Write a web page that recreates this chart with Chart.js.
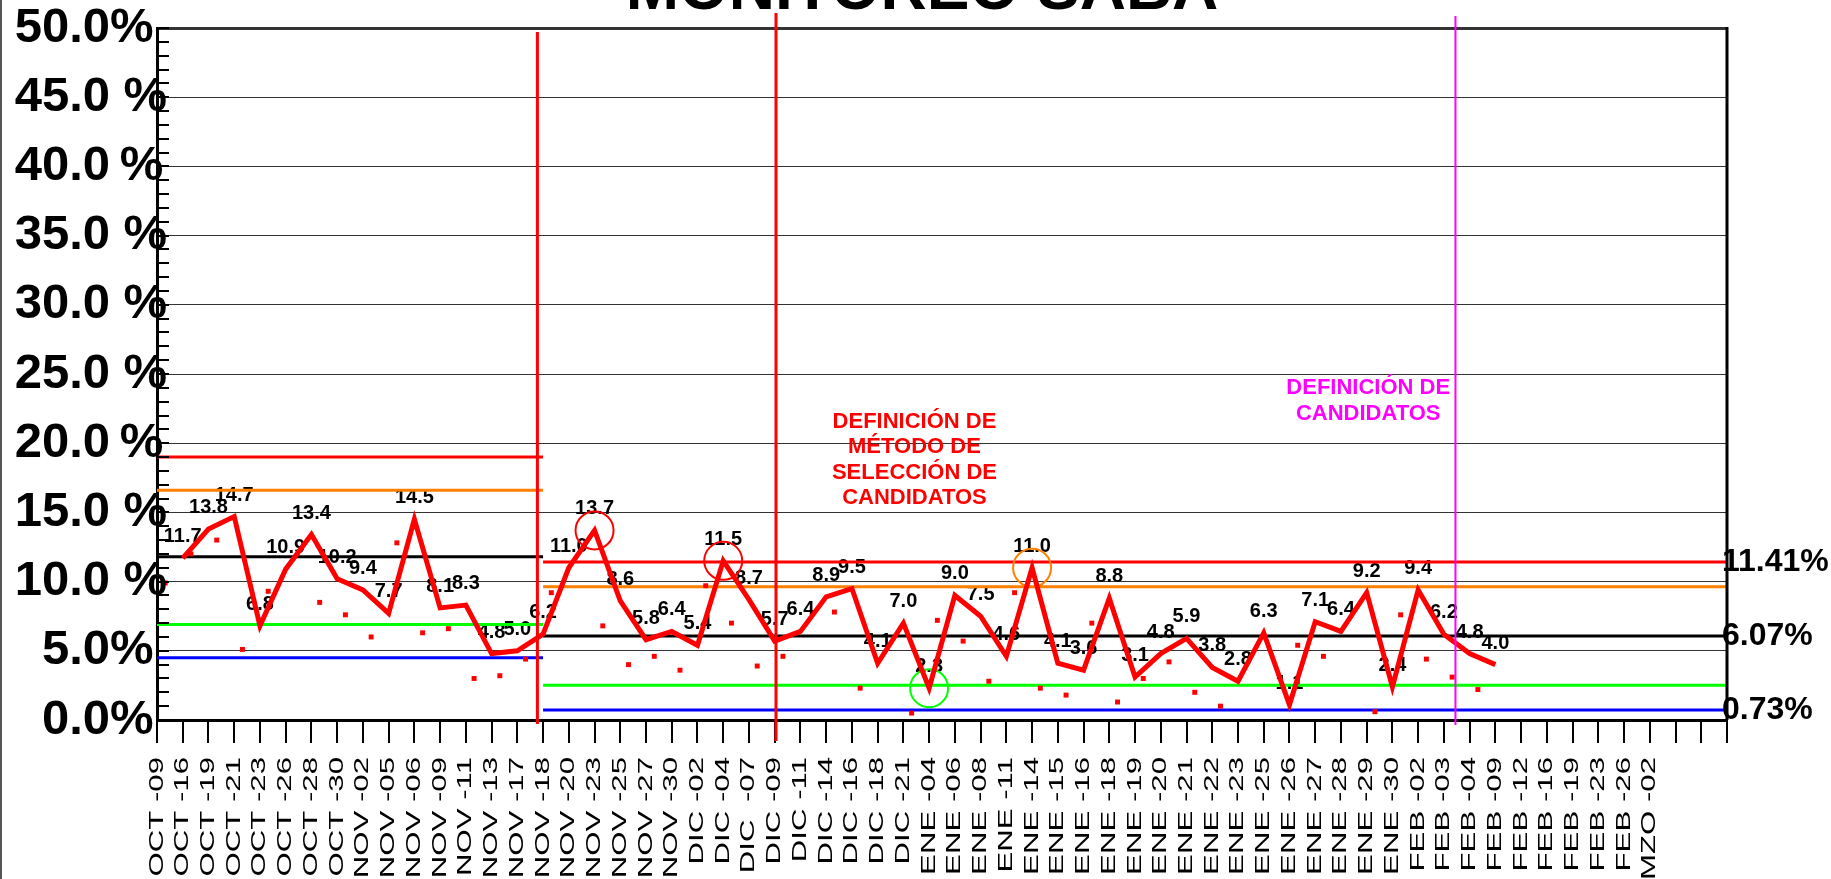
<!DOCTYPE html>
<html>
<head>
<meta charset="utf-8">
<script src="https://cdn.jsdelivr.net/npm/chart.js@4.4.1/dist/chart.umd.min.js"></script>
<style>
html,body{margin:0;padding:0;background:#ffffff;overflow:hidden;}
canvas{display:block;}
</style>
</head>
<body>
<canvas id="c" width="1831" height="879" style="width:1831px;height:879px"></canvas>
<script>
// ---------------- DATA ----------------
const chartTitle = 'MONITOREO SABA';

const categories = [
  'OCT -09','OCT -16','OCT -19','OCT -21','OCT -23','OCT -26','OCT -28','OCT -30',
  'NOV -02','NOV -05','NOV -06','NOV -09','NOV -11','NOV -13','NOV -17','NOV -18','NOV -20','NOV -23','NOV -25','NOV -27','NOV -30',
  'DIC -02','DIC -04','DIC  -07','DIC -09','DIC -11','DIC -14','DIC -16','DIC -18','DIC -21',
  'ENE -04','ENE -06','ENE -08','ENE -11','ENE -14','ENE -15','ENE -16','ENE -18','ENE -19','ENE -20',
  'ENE -21','ENE -22','ENE -23','ENE -25','ENE -26','ENE -27','ENE -28','ENE -29','ENE -30',
  'FEB -02','FEB -03','FEB -04','FEB -09','FEB -12','FEB -16','FEB -19','FEB -23','FEB -26',
  'MZO -02','','',''
];

// main series (percent), one per category
const mainValues = [
  null, 11.7, 13.8, 14.7, 6.8, 10.9, 13.4, 10.2, 9.4, 7.7, 14.5, 8.1, 8.3, 4.8, 5.0, 6.2,
  11.0, 13.7, 8.6, 5.8, 6.4, 5.4, 11.5, 8.7, 5.7, 6.4, 8.9, 9.5, 4.1, 7.0, 2.3,
  9.0, 7.5, 4.6, 11.0, 4.1, 3.6, 8.8, 3.1, 4.8, 5.9, 3.8, 2.8, 6.3, 1.1, 7.1, 6.4,
  9.2, 2.4, 9.4, 6.2, 4.8, 4.0
];

// secondary series (small red squares)
const dotValues = [
  9.9, 12.0, 13.0, 5.1, 9.3, null, 8.5, 7.6, 6.0, 12.8, 6.3, 6.6, 3.0, 3.2, 4.4, 9.2,
  null, 6.8, 4.0, 4.6, 3.6, 9.7, 7.0, 3.9, 4.6, null, 7.8, 2.3, null, 0.5, 7.2,
  5.7, 2.8, 9.2, 2.3, 1.8, 7.0, 1.3, 3.0, 4.2, 2.0, 1.0, null, -0.6, 5.4, 4.6, null,
  0.6, 7.6, 4.4, 3.1, 2.2, null
];

const yTickValues = [0, 5, 10, 15, 20, 25, 30, 35, 40, 45, 50];
const yTickLabels = ['0.0%', '5.0%', '10.0 %', '15.0 %', '20.0\u2009%', '25.0 %', '30.0 %', '35.0 %', '40.0\u2009%', '45.0 %', '50.0%'];

// control limits: UCL, +2s, CL, -2s, LCL
const phase1Limits = [19.0, 16.6, 11.8, 6.9, 4.5];
const phase2Limits = [11.41, 9.63, 6.07, 2.51, 0.73];
const phaseSpans = [[0, 15], [15, 61]];
const labeledLimits = [11.41, 6.07, 0.73];

const highlightIdx = [17, 22, 30, 34];
const phaseBreaks = [14.78, 24.05, 50.45];

const noteRed = ['DEFINICIÓN DE', 'MÉTODO DE', 'SELECCIÓN DE', 'CANDIDATOS'];
const noteMagenta = ['DEFINICIÓN DE', 'CANDIDATOS'];

// ---------------- STYLES ----------------
const FONT = '"Liberation Sans", Arial, Helvetica, sans-serif';
const limitColors = ['#FF0000', '#FF8000', '#000000', '#00FF00', '#0000FF'];
const highlightColors = ['#FF0000', '#FF0000', '#00FF00', '#FF8000'];
const breakStyles = [
  {color: '#FF0000', width: 3, top: 32, bottom: 724},
  {color: '#FF0000', width: 3, top: 13, bottom: 741},
  {color: '#FF00FF', width: 2, top: 16, bottom: 725}
];
const dotShift = 0.32;

// ---------------- DATASETS ----------------
const datasets = [];
datasets.push({
  label: 'main',
  data: mainValues.map((v, i) => v == null ? null : {x: i, y: v}).filter(Boolean),
  borderColor: '#FF0000', borderWidth: 5, pointRadius: 0, tension: 0,
  borderJoinStyle: 'miter', fill: false, order: 0
});
datasets.push({
  label: 'highlight',
  data: highlightIdx.map(i => ({x: i, y: mainValues[i]})),
  showLine: false, pointRadius: 19, pointStyle: 'circle', pointBorderWidth: 2,
  pointBorderColor: highlightColors, pointBackgroundColor: 'rgba(0,0,0,0)', order: 1
});
datasets.push({
  label: 'dots',
  data: dotValues.map((v, i) => v == null ? null : {x: i + dotShift, y: v}).filter(Boolean),
  showLine: false, pointStyle: 'rect', pointRadius: 3.5, pointBorderWidth: 0,
  pointBackgroundColor: '#FF0000', pointBorderColor: '#FF0000', clip: false, order: 2
});
[phase1Limits, phase2Limits].forEach((lims, p) => {
  lims.forEach((v, k) => {
    datasets.push({
      label: 'lim' + p + k,
      data: [{x: phaseSpans[p][0], y: v}, {x: phaseSpans[p][1], y: v}],
      borderColor: limitColors[k], borderWidth: 3, pointRadius: 0, fill: false, order: 5
    });
  });
});

// ---------------- CUSTOM DRAWING ----------------
const customDraw = {
  id: 'customDraw',
  beforeDatasetsDraw(chart) {
    const {ctx, scales: {x, y}} = chart;
    ctx.save();
    ctx.font = 'bold 20px ' + FONT;
    ctx.fillStyle = '#000';
    ctx.textAlign = 'center';
    ctx.textBaseline = 'alphabetic';
    mainValues.forEach((v, i) => {
      if (v == null) return;
      ctx.fillText(v.toFixed(1), x.getPixelForValue(i), y.getPixelForValue(v) - 16);
    });
    ctx.restore();
  },
  afterDraw(chart) {
    const {ctx, chartArea: ca, scales: {x, y}} = chart;
    ctx.save();

    // left frame line
    ctx.strokeStyle = '#555'; ctx.lineWidth = 2;
    ctx.beginPath(); ctx.moveTo(1, 0); ctx.lineTo(1, 879); ctx.stroke();

    // right plot border
    ctx.strokeStyle = '#000'; ctx.lineWidth = 3;
    ctx.beginPath(); ctx.moveTo(ca.right, ca.top - 1); ctx.lineTo(ca.right, ca.bottom); ctx.stroke();

    // minor ticks on the y axis (every 1%)
    ctx.lineWidth = 2;
    for (let v = 0; v <= 50; v++) {
      const py = Math.round(y.getPixelForValue(v));
      ctx.beginPath(); ctx.moveTo(ca.left, py); ctx.lineTo(ca.left + 12, py); ctx.stroke();
    }

    // y tick labels
    ctx.fillStyle = '#000';
    ctx.font = 'bold 49px ' + FONT;
    ctx.textBaseline = 'middle';
    yTickValues.forEach((v, k) => {
      const lab = yTickLabels[k];
      const num = lab.replace(/[\s\u2009]*%$/, '');
      const rest = lab.slice(num.length);
      const py = y.getPixelForValue(v);
      ctx.textAlign = 'right';
      ctx.fillText(num, 110, py);
      ctx.textAlign = 'left';
      ctx.fillText(rest, 110, py);
    });

    // x category labels (rotated, stretched)
    ctx.font = '20px ' + FONT;
    categories.forEach((lab, i) => {
      if (!lab) return;
      const px = x.getPixelForValue(i);
      ctx.save();
      ctx.translate(px, ca.bottom + 37);
      ctx.rotate(-Math.PI / 2);
      ctx.scale(1.56, 1);
      ctx.textAlign = 'right';
      ctx.textBaseline = 'middle';
      ctx.fillText(lab, 0, 0);
      ctx.restore();
    });

    // vertical phase lines
    phaseBreaks.forEach((c, k) => {
      const st = breakStyles[k];
      const px = x.getPixelForValue(c);
      ctx.strokeStyle = st.color; ctx.lineWidth = st.width;
      ctx.beginPath(); ctx.moveTo(px, st.top); ctx.lineTo(px, st.bottom); ctx.stroke();
    });

    // notes
    ctx.font = 'bold 22px ' + FONT;
    ctx.textAlign = 'center';
    ctx.textBaseline = 'middle';
    ctx.fillStyle = '#FF0000';
    noteRed.forEach((t, k) => ctx.fillText(t, x.getPixelForValue(29.43), y.getPixelForValue(21.55) + k * 25.5));
    ctx.fillStyle = '#FF00FF';
    noteMagenta.forEach((t, k) => ctx.fillText(t, x.getPixelForValue(47.06), y.getPixelForValue(23.97) + k * 26));

    // right-side limit labels
    ctx.fillStyle = '#000';
    ctx.font = 'bold 32px ' + FONT;
    ctx.textAlign = 'left';
    labeledLimits.forEach(v => ctx.fillText(v.toFixed(2) + '%', ca.right - 5, y.getPixelForValue(v)));

    // title (partly cut at top)
    ctx.font = 'bold 64px ' + FONT;
    ctx.textAlign = 'center';
    ctx.textBaseline = 'alphabetic';
    ctx.fillText(chartTitle, 922, 9);

    ctx.restore();
  }
};

// ---------------- CHART ----------------
new Chart(document.getElementById('c'), {
  type: 'line',
  data: {datasets},
  options: {
    responsive: false,
    devicePixelRatio: 1,
    animation: false,
    events: [],
    layout: {padding: {top: 28, right: 104, left: 0, bottom: 0}},
    plugins: {legend: {display: false}, tooltip: {enabled: false}, title: {display: false}},
    scales: {
      x: {
        type: 'linear', min: 0, max: categories.length - 1,
        ticks: {display: false, stepSize: 1, autoSkip: false},
        grid: {drawOnChartArea: false, drawTicks: true, tickLength: 23, color: '#000', lineWidth: 2},
        border: {display: true, color: '#000', width: 3},
        afterFit: s => { s.height = 159; }
      },
      y: {
        min: 0, max: 50,
        ticks: {display: false, stepSize: 5},
        grid: {drawTicks: false, color: '#333', lineWidth: c => (c.tick && c.tick.value === 50) ? 3 : 1},
        border: {display: true, color: '#000', width: 3},
        afterFit: s => { s.width = 157; }
      }
    }
  },
  plugins: [customDraw]
});
</script>
</body>
</html>
